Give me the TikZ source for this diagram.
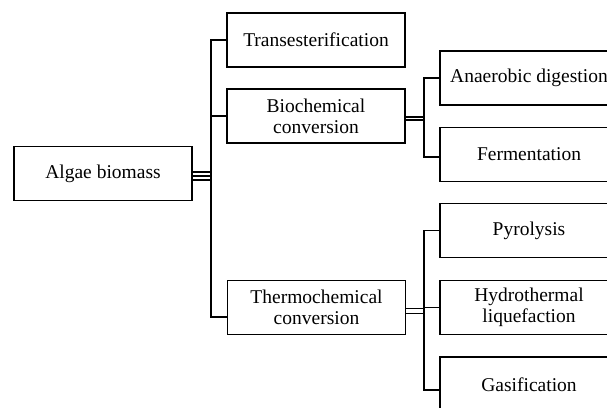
\documentclass[tikz,border=0pt]{standalone}
\usepackage{fontspec}
\setmainfont{Liberation Serif}
\usetikzlibrary{positioning,calc}

\begin{document}
\begin{tikzpicture}[x=1pt, y=-1pt,
  box/.style={draw=black, line width=1.9pt, fill=white, align=center, font=\fontsize{19.5}{21}\selectfont, minimum width=178pt, minimum height=54pt, inner sep=2pt},
  link/.style={line width=1.8pt},
  dbl/.style={line width=1.5pt, double, double distance=#1},
  dbl/.default=2pt]
  \useasboundingbox (0,0) rectangle (607,407);
  \clip (0,0) rectangle (607,407);
  \node[box] (algae) at (103,173.5) {Algae biomass};
  \node[box] (trans) at (316,40) {Transesterification};
  \node[box] (bio) at (316,116) {Biochemical\\conversion};
  \node[box] (thermo) at (316.5,307.5) {Thermochemical\\conversion};
  \node[box] (anaer) at (529,78) {Anaerobic digestion};
  \node[box] (ferm) at (529,154.5) {Fermentation};
  \node[box] (pyro) at (529,230.5) {Pyrolysis};
  \node[box] (hydro) at (529,307.5) {Hydrothermal\\liquefaction};
  \node[box, minimum height=56pt] (gasi) at (529,385) {Gasification};
  % junction bars
  \coordinate (lbar) at (211,176);
  \coordinate (rbarbio) at (424,118.5);
  \coordinate (rbarthermo) at (424,311);
  % left tree
  \draw[dbl=6.2pt] (algae.east |- lbar) -- (lbar);
  \draw[line width=1.5pt] (algae.east |- lbar) -- (lbar);
  \draw[link] (trans.west) -| (lbar) |- ([yshift=-9.5pt]thermo.west);
  \draw[link] (bio.west) -- (bio.west -| lbar);
  % biochemical branch
  \draw[dbl=1.6pt] (bio.east |- rbarbio) -- (rbarbio);
  \draw[link] (anaer.west) -| (rbarbio) |- ([yshift=-2.5pt]ferm.west);
  % thermochemical branch
  \draw[dbl=3.5pt] (thermo.east |- rbarthermo) -- (rbarthermo);
  \draw[link] (pyro.west) -| (rbarthermo) |- ([yshift=-5pt]gasi.west);
  \draw[link] (rbarthermo |- hydro.west) -- (hydro.west);
\end{tikzpicture}
\end{document}
